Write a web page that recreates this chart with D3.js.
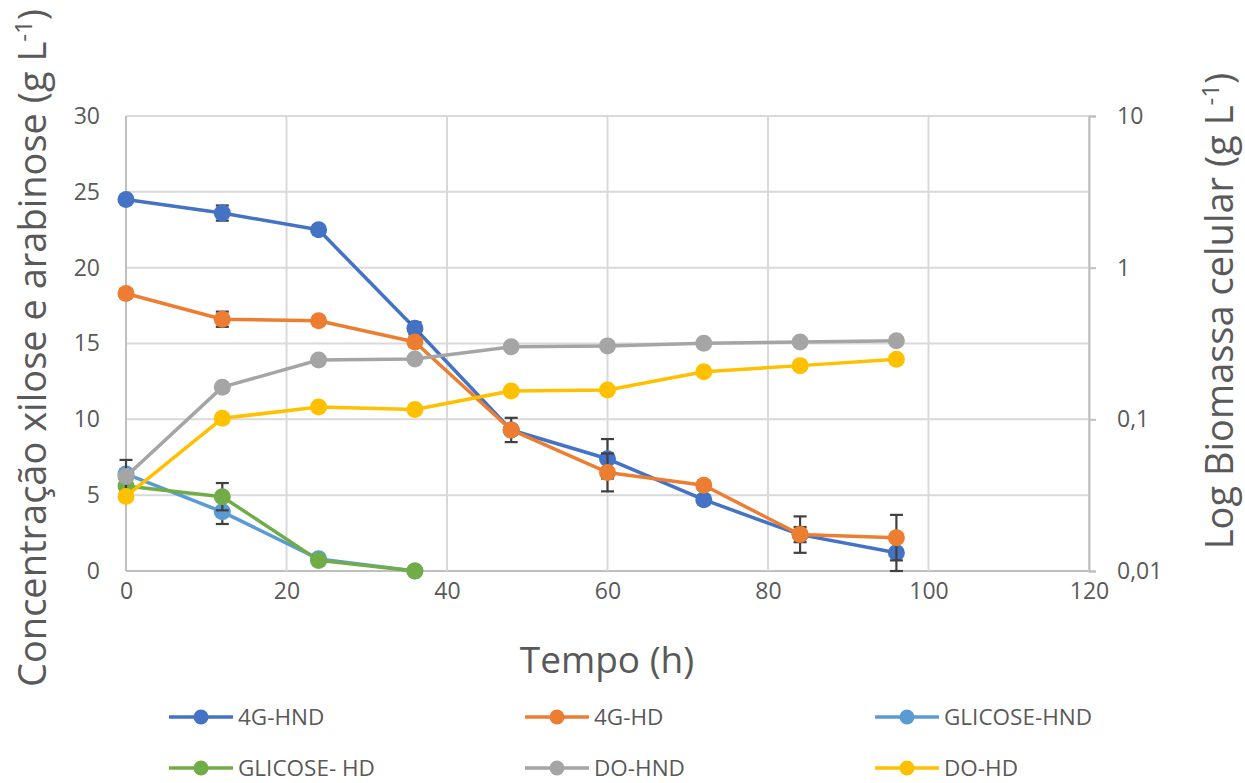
<!DOCTYPE html>
<html><head><meta charset="utf-8">
<script src="https://cdn.jsdelivr.net/npm/d3@7"></script>
<style>
html,body{margin:0;padding:0;background:#fff;}
svg{display:block;font-family:"Open Sans","Noto Sans",sans-serif;}
</style></head>
<body><svg id="c" width="1245" height="783"></svg>
<script>
const times = [0, 12, 24, 36, 48, 60, 72, 84, 96];
const xTicks = [0, 20, 40, 60, 80, 100, 120];
const yLeftTicks = [0, 5, 10, 15, 20, 25, 30];
const yRightTicks = [0.01, 0.1, 1, 10];
const yRightLabels = ["0,01", "0,1", "1", "10"];

const hnd4g = [24.5, 23.6, 22.5, 16.0, 9.3, 7.4, 4.7, 2.4, 1.2];
const hnd4gErr = [0.2, 0.5, 0.3, 0.4, 0.3, 1.3, 0.3, 0.5, 1.2];
const hd4g = [18.3, 16.6, 16.5, 15.1, 9.3, 6.5, 5.65, 2.4, 2.2];
const hd4gErr = [0.3, 0.5, 0.3, 0.3, 0.8, 1.25, 0.3, 1.2, 1.5];
const glicHnd = [6.4, 3.9, 0.8, 0.0];
const glicHndErr = [0.3, 0.8, 0.3, 0.0];
const glicHd = [5.6, 4.9, 0.7, 0.0];
const glicHdErr = [0.3, 0.9, 0.3, 0.0];
const doHnd = [0.042, 0.163, 0.246, 0.25, 0.301, 0.305, 0.317, 0.323, 0.33];
const doHndErr = [0.012, 0, 0, 0, 0, 0, 0, 0, 0];
const doHd = [0.031, 0.1015, 0.1206, 0.116, 0.154, 0.156, 0.206, 0.226, 0.249];

const series = [
  {name:"4G-HND", color:"#4472C4", vals:hnd4g, err:hnd4gErr, axis:"L"},
  {name:"4G-HD", color:"#ED7D31", vals:hd4g, err:hd4gErr, axis:"L"},
  {name:"GLICOSE-HND", color:"#5B9BD5", vals:glicHnd, err:glicHndErr, axis:"L"},
  {name:"GLICOSE- HD", color:"#70AD47", vals:glicHd, err:glicHdErr, axis:"L"},
  {name:"DO-HND", color:"#A5A5A5", vals:doHnd, err:doHndErr, axis:"R"},
  {name:"DO-HD", color:"#FFC000", vals:doHd, err:null, axis:"R"}
];

const svg = d3.select("#c");
const L = 126, R = 1089, T = 116, B = 571;
const x = d3.scaleLinear().domain([0,120]).range([L,R]);
const yL = d3.scaleLinear().domain([0,30]).range([B,T]);
const yR = d3.scaleLog().domain([0.01,10]).range([B,T]);
const txt = "#595959";
const tickFont = 23;

// gridlines
const g = svg.append("g");
g.selectAll("line.h").data(yLeftTicks).join("line")
  .attr("x1",L).attr("x2",R).attr("y1",d=>yL(d)).attr("y2",d=>yL(d))
  .attr("stroke",d=>d===0?"#bfbfbf":"#d9d9d9").attr("stroke-width",2);
g.selectAll("line.v").data(xTicks).join("line")
  .attr("y1",T).attr("y2",B).attr("x1",d=>x(d)).attr("x2",d=>x(d))
  .attr("stroke",d=>d===0?"#bfbfbf":"#d9d9d9").attr("stroke-width",2);

// right axis
const ra = svg.append("g").attr("transform",`translate(${R},0)`)
  .call(d3.axisRight(yR).tickValues(yRightTicks).tickFormat((d,i)=>yRightLabels[i]).tickSize(7).tickPadding(21));
ra.select(".domain").attr("stroke","#bfbfbf").attr("stroke-width",2);
ra.selectAll(".tick line").attr("stroke","#bfbfbf").attr("stroke-width",2);
ra.selectAll("text").attr("fill",txt).attr("font-size",tickFont).attr("font-family","Open Sans");

// left axis labels
const la = svg.append("g").attr("transform",`translate(${L},0)`)
  .call(d3.axisLeft(yL).tickValues(yLeftTicks).tickSize(0).tickPadding(26));
la.select(".domain").remove();
la.selectAll("text").attr("fill",txt).attr("font-size",tickFont).attr("font-family","Open Sans");

// bottom axis labels
const ba = svg.append("g").attr("transform",`translate(0,${B})`)
  .call(d3.axisBottom(x).tickValues(xTicks).tickSize(0).tickPadding(12));
ba.select(".domain").remove();
ba.selectAll("text").attr("fill",txt).attr("font-size",tickFont).attr("font-family","Open Sans");

// series
series.forEach(s=>{
  const ys = s.axis==="L" ? yL : yR;
  const floor = s.axis==="R" ? 0.0101 : 0;
  const pts = s.vals.map((v,i)=>({t:times[i], v:v, e:s.err?s.err[i]:0}));
  const sg = svg.append("g");
  sg.append("path").datum(pts)
    .attr("d", d3.line().x(d=>x(d.t)).y(d=>ys(d.v)))
    .attr("fill","none").attr("stroke",s.color).attr("stroke-width",3.5).attr("stroke-linejoin","round");
  const eb = pts.filter(d=>d.e>0);
  const eg = sg.selectAll("g.eb").data(eb).join("g");
  eg.append("line").attr("x1",d=>x(d.t)).attr("x2",d=>x(d.t))
    .attr("y1",d=>ys(d.v+d.e)).attr("y2",d=>ys(Math.max(floor, d.v-d.e)))
    .attr("stroke","#404040").attr("stroke-width",2.2);
  [1,-1].forEach(sgn=>{
    eg.append("line").attr("x1",d=>x(d.t)-6.5).attr("x2",d=>x(d.t)+6.5)
      .attr("y1",d=>ys(Math.max(floor, d.v+sgn*d.e))).attr("y2",d=>ys(Math.max(floor, d.v+sgn*d.e)))
      .attr("stroke","#404040").attr("stroke-width",2.2);
  });
  sg.selectAll("circle").data(pts).join("circle")
    .attr("cx",d=>x(d.t)).attr("cy",d=>ys(d.v)).attr("r",8.5).attr("fill",s.color);
});

// axis titles
svg.append("text").attr("x",607).attr("y",673).attr("text-anchor","middle")
  .attr("font-size",37).attr("fill",txt).text("Tempo (h)");

function vTitle(cx, cy, main){
  const t = svg.append("text").attr("transform",`translate(${cx},${cy}) rotate(-90)`)
    .attr("text-anchor","middle").attr("font-size",38).attr("fill",txt);
  t.append("tspan").text(main);
  t.append("tspan").attr("font-size",24).attr("dy",-14).text("-1");
  t.append("tspan").attr("dy",14).text(")");
}
vTitle(46, 348, "Concentração xilose e arabinose (g L");
vTitle(1233, 311, "Log Biomassa celular (g L");

// legend
const legPos = [[169,717],[525,717],[875,717],[169,768],[525,768],[875,768]];
series.forEach((s,i)=>{
  const [lx,ly] = legPos[i];
  const lg = svg.append("g").attr("transform",`translate(${lx},${ly})`);
  lg.append("line").attr("x1",0).attr("x2",64).attr("y1",0).attr("y2",0)
    .attr("stroke",s.color).attr("stroke-width",3.5);
  lg.append("circle").attr("cx",32).attr("cy",0).attr("r",7.5).attr("fill",s.color);
  lg.append("text").attr("x",69).attr("y",8).attr("font-size",22.5).attr("fill",txt).text(s.name);
});
</script></body></html>
